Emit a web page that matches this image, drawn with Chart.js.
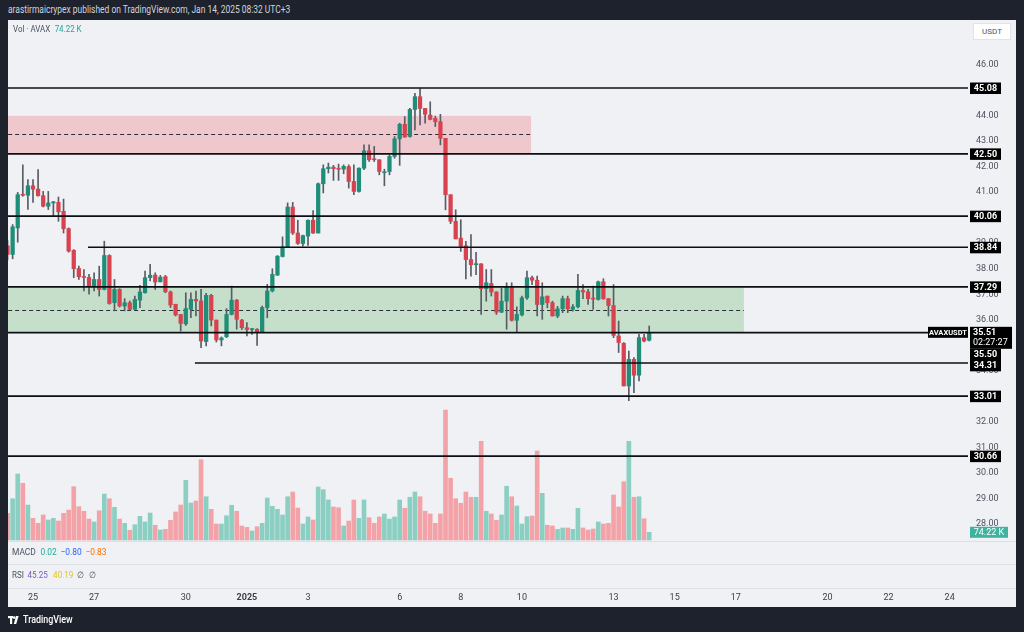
<!DOCTYPE html>
<html><head><meta charset="utf-8">
<script src="https://cdn.jsdelivr.net/npm/chart.js@4.4.1/dist/chart.umd.min.js"></script>
<style>
html,body{margin:0;padding:0;}
body{width:1024px;height:632px;background:#1e222d;position:relative;overflow:hidden;font-family:Roboto,"Liberation Sans",sans-serif;}
.t{position:absolute;white-space:nowrap;transform-origin:0 50%;}
#panel{position:absolute;left:8px;top:20px;width:1008px;height:587px;background:#eff1f5;}
#wrap{position:absolute;left:8px;top:20px;width:1008px;height:587px;}
.sep{position:absolute;left:8px;width:1008px;height:1px;background:#dcdfe5;}
#usdt{position:absolute;left:973px;top:23px;width:38px;height:17px;background:#fff;border:1px solid #e0e3eb;box-sizing:border-box;font-size:8px;color:#4c525e;text-align:center;line-height:15px;}
</style></head><body>
<div id="panel"></div>
<div class="sep" style="top:541px"></div>
<div class="sep" style="top:564px"></div>
<div class="sep" style="top:588px"></div>
<div id="wrap"><canvas id="c"></canvas></div>
<div id="usdt">USDT</div>
<svg style="position:absolute;left:8px;top:614px" width="12" height="12" viewBox="0 0 12 12">
<rect x="0" y="2" width="5" height="2.2" fill="#fff"/><rect x="2" y="2" width="2.2" height="8" fill="#fff"/>
<circle cx="6.2" cy="3.6" r="1.3" fill="#fff"/><polygon points="8,2 10.6,2 8.2,10 5.8,10" fill="#fff"/>
</svg>
<script>
// ---- data (4h candles, AVAX/USDT, bar 0 = Dec 25 03:00 UTC+3) ----
const firstBar = -5;
const open  = [38.90,38.56,39.60,40.90,40.88,41.25,41.12,40.86,40.45,40.58,40.60,40.25,39.57,38.72,38.01,37.69,37.66,37.32,37.58,37.19,38.52,36.67,37.19,36.54,36.67,36.41,36.77,37.06,37.65,37.75,37.49,37.69,37.09,36.61,36.21,35.84,36.41,36.80,36.74,35.15,36.96,35.99,35.21,35.34,36.21,36.77,35.99,35.69,35.62,35.63,35.53,36.48,37.13,37.75,38.48,38.86,40.42,39.40,38.99,39.28,39.90,39.40,41.33,41.92,41.98,41.92,41.90,42.00,41.42,41.03,41.94,42.62,42.30,42.27,41.76,41.81,42.40,43.09,43.66,43.18,44.24,44.74,44.28,44.02,43.89,43.76,43.11,40.90,39.86,39.20,38.90,38.36,38.16,38.19,37.22,37.42,37.09,36.30,36.73,37.29,35.98,36.19,36.86,37.65,37.55,36.60,36.93,36.67,36.15,36.43,36.83,36.41,36.51,37.15,37.10,36.83,36.80,37.49,36.83,36.56,35.37,35.08,33.41,34.45,33.83,35.30,35.20];
const high  = [39.10,39.73,40.99,42.07,41.49,41.49,41.88,41.03,41.03,40.64,40.81,40.73,39.60,38.75,38.10,37.97,37.78,37.84,38.10,39.08,38.55,37.58,37.22,36.83,36.74,36.93,37.35,37.91,38.17,37.84,37.74,37.74,37.13,36.61,36.21,37.06,37.06,37.13,37.19,37.04,37.00,35.99,35.33,36.44,37.32,36.80,36.02,35.89,35.66,35.66,36.54,37.39,38.00,38.52,39.25,40.58,40.60,39.90,39.32,39.92,40.28,41.36,42.07,42.14,42.05,42.10,42.07,42.07,42.07,41.95,42.85,42.85,42.79,42.27,41.90,42.46,43.18,43.70,43.96,44.28,44.87,45.06,44.28,44.54,43.98,44.05,43.11,40.90,40.31,39.92,39.07,39.34,38.64,38.20,37.97,37.97,37.10,37.25,37.45,37.45,36.51,36.93,37.91,37.71,37.71,37.45,36.93,36.73,36.53,36.93,36.93,36.60,37.78,37.38,37.19,37.32,37.52,37.61,36.83,37.38,35.95,35.11,34.78,34.52,35.43,35.43,35.76];
const low   = [38.35,38.39,39.04,40.84,40.32,40.60,40.84,40.42,40.32,40.08,39.86,39.40,38.65,37.65,37.58,37.13,37.00,37.13,36.93,37.17,36.61,36.35,36.50,36.35,36.38,36.41,36.48,37.04,37.52,37.19,37.48,37.06,36.48,36.15,35.56,35.78,36.08,36.15,34.91,34.98,35.76,35.13,34.98,35.30,36.19,35.63,35.62,35.37,35.43,35.00,35.50,36.08,37.09,37.74,38.46,38.84,39.34,38.95,38.88,38.91,39.38,39.40,40.97,41.75,41.46,41.46,41.72,41.16,40.90,41.00,41.88,42.20,42.20,41.68,41.25,41.68,42.33,42.05,43.15,43.15,43.44,43.63,43.70,43.83,43.57,42.85,40.31,39.77,39.17,38.68,37.60,37.71,37.77,36.21,36.73,36.93,36.21,36.28,35.63,35.95,35.50,36.15,36.80,37.38,36.15,36.02,36.47,36.15,36.08,36.28,36.28,36.34,36.47,36.83,36.60,36.41,36.77,36.80,36.15,35.30,34.72,33.41,32.83,33.15,33.61,35.13,35.17];
const close = [38.56,39.64,40.90,40.88,41.25,41.12,40.86,40.45,40.58,40.60,40.23,39.57,38.69,38.00,37.69,37.66,37.32,37.58,37.19,38.52,36.64,37.19,36.54,36.67,36.41,36.80,37.09,37.65,37.75,37.48,37.67,37.10,36.58,36.19,35.86,36.44,36.80,36.74,35.17,36.96,35.99,35.21,35.29,36.21,36.77,36.02,35.69,35.62,35.63,35.53,36.48,37.13,37.78,38.49,38.86,40.42,39.40,38.99,39.30,39.90,39.40,41.33,41.92,41.98,41.92,41.90,42.01,41.42,41.03,41.94,42.62,42.27,42.27,41.81,41.80,42.40,43.09,43.66,43.16,44.24,44.74,44.28,44.05,43.85,43.76,43.11,40.90,39.86,39.17,38.88,38.36,38.16,38.19,37.22,37.45,37.09,36.30,36.73,37.29,35.98,36.21,36.86,37.65,37.55,36.60,36.90,36.67,36.15,36.43,36.83,36.43,36.51,37.15,37.09,36.83,36.81,37.49,36.83,36.56,35.39,35.11,33.41,34.45,33.83,35.30,35.17,35.51];
const volumeK = [257,398,636,547,337,209,161,241,193,209,183,257,289,514,321,277,202,174,282,443,398,315,202,161,94,147,228,174,260,142,96,103,190,270,337,575,357,376,774,417,296,154,154,234,335,277,135,122,87,128,161,405,325,296,241,417,463,308,154,222,193,511,485,386,318,311,135,183,386,209,386,215,161,222,251,202,222,386,306,412,463,417,277,251,161,251,1253,595,398,354,463,412,412,951,277,251,190,241,518,417,328,154,225,231,858,450,142,135,103,116,116,103,306,116,96,106,174,154,161,434,318,562,951,412,417,205,74.22];
const dayTickBars   = [0,12,30,42,54,72,84,96,114,126,138,156,168,180];
const dayTickLabels = ['25','27','30','2025','3','6','8','10','13','15','17','20','22','24'];
const priceTicks = [28,29,30,31,32,33,34,35,36,37,38,39,40,41,42,43,44,45,46];
const levels        = [45.08,42.50,40.06,38.84,37.29,35.50,34.31,33.01,30.66];
const levelStartBar = [-20,-20,-20,10.8,-20,-20,31.8,-20,-20];
const zoneLow      = [42.53,35.53];
const zoneHigh     = [43.99,37.27];
const zoneEndBar   = [97.8,139.6];
const lastPrice = 35.51;
const countdown = '02:27:27';
const lastVolLabel = '74.22 K';

// ---- text helpers ----
function place(parts, x, cy, w, size, weight){
  const d = document.createElement('div'); d.className='t';
  d.style.left = x+'px'; d.style.top = (cy - size/2)+'px';
  d.style.fontSize = size+'px'; d.style.lineHeight = size+'px';
  if (weight) d.style.fontWeight = weight;
  parts.forEach(([txt,col,gap])=>{ const s=document.createElement('span'); s.textContent=txt; s.style.color=col; if(gap) s.style.marginLeft=gap+'px'; d.appendChild(s); });
  document.body.appendChild(d);
  const r = d.scrollWidth; if (w && r) d.style.transform = 'scaleX('+(w/r)+')';
}
place([['arastirmaicrypex published on TradingView.com, Jan 14, 2025 08:32 UTC+3','#d1d4dc']], 8, 10, 282, 10);
place([['Vol · AVAX','#4c525e'],['74.22 K','#26a69a',5]], 13, 29, 69, 9);
place([['MACD','#4c525e'],['0.02','#22ab94',5],['−0.80','#2962ff',4],['−0.83','#ff6d00',4]], 12, 552, 95, 9);
place([['RSI','#4c525e'],['45.25','#7e57c2',4],['40.19','#e8c31a',6],['∅','#4c525e',4],['∅','#4c525e',6]], 12, 575, 85, 9);
place([['TradingView','#ffffff']], 23, 620, 50, 10, '500');

// ---- chart ----
const bars = open.map((_, k) => firstBar + k);
const up = bars.map((_, k) => close[k] >= open[k]);

const overlay = {
  id: 'overlay',
  beforeDatasetsDraw(chart){
    const {ctx, chartArea:a, scales:{x, y}} = chart;
    ctx.save(); ctx.beginPath(); ctx.rect(a.left, a.top, a.right-a.left, a.bottom-a.top); ctx.clip();
    const fills = ['rgba(242,54,69,0.22)','rgba(76,175,80,0.26)'];
    zoneLow.forEach((lo, k) => {
      const x0 = x.getPixelForValue(-20), x1 = x.getPixelForValue(zoneEndBar[k]);
      const y0 = y.getPixelForValue(zoneHigh[k]), y1 = y.getPixelForValue(lo);
      ctx.fillStyle = fills[k]; ctx.fillRect(x0, y0, x1-x0, y1-y0);
      const ym = Math.round(y.getPixelForValue((zoneHigh[k]+lo)/2)) + 0.5;
      ctx.setLineDash([4,3]); ctx.strokeStyle = '#2a2e39'; ctx.lineWidth = 1;
      ctx.beginPath(); ctx.moveTo(x0, ym); ctx.lineTo(x1, ym); ctx.stroke(); ctx.setLineDash([]);
    });
    ctx.restore();
  },
  afterDatasetsDraw(chart){
    const {ctx, chartArea:a, scales:{x, y}} = chart;
    ctx.save(); ctx.beginPath(); ctx.rect(a.left, a.top, a.right-a.left, a.bottom-a.top); ctx.clip();
    ctx.strokeStyle = '#0c0e14'; ctx.lineWidth = 1.6;
    levels.forEach((lv, k) => {
      const yy = y.getPixelForValue(lv);
      ctx.beginPath(); ctx.moveTo(x.getPixelForValue(levelStartBar[k]), yy); ctx.lineTo(a.right, yy); ctx.stroke();
    });
    ctx.restore();
  },
  afterDraw(chart){
    const {ctx, chartArea:a, scales:{y, yv}} = chart;
    ctx.save();
    ctx.textBaseline = 'middle'; ctx.textAlign = 'center';
    const bx = a.right + 2;
    // current price block + symbol tag
    const py = y.getPixelForValue(lastPrice);
    ctx.fillStyle = '#000'; ctx.fillRect(a.right-40, py-5.5, 40, 11);
    ctx.fillStyle = '#fff'; ctx.font = 'bold 8px Roboto';
    ctx.fillText('AVAXUSDT', a.right-20, py+0.5, 38);
    ctx.fillStyle = '#000'; ctx.fillRect(bx, py-5.5, 42, 22);
    ctx.fillStyle = '#fff'; ctx.font = 'bold 9px Roboto'; ctx.textAlign = 'left';
    ctx.fillText(lastPrice.toFixed(2), bx+3, py+0.5);
    ctx.font = '9px Roboto'; ctx.fillText(countdown, bx+3, py+10.5);
    // level badges with collision cascade
    const items = levels.map(lv => ({lv, yc: y.getPixelForValue(lv)})).sort((p,q)=>p.yc-q.yc);
    let prevBottom = -1e9; const blockTop = py-5.5, blockBottom = py+16.5;
    ctx.textAlign = 'center'; ctx.font = 'bold 9px Roboto';
    items.forEach(it => {
      let top = it.yc - 5.5;
      if (top < blockBottom && top + 11 > blockTop) top = blockBottom;
      if (top < prevBottom) top = prevBottom;
      ctx.fillStyle = '#000'; ctx.fillRect(bx, top, 31, 11.5);
      ctx.fillStyle = '#fff'; ctx.fillText(it.lv.toFixed(2), bx+15.5, top+6);
      prevBottom = top + 11;
    });
    // volume badge
    const vy = yv.getPixelForValue(volumeK[volumeK.length-1]);
    ctx.fillStyle = '#3fb39e'; ctx.fillRect(bx, vy-5.5, 38, 11);
    ctx.fillStyle = '#fff'; ctx.font = '9px Roboto'; ctx.fillText(lastVolLabel, bx+19, vy+0.5);
    ctx.restore();
  }
};

const zeroPad = s => { s.paddingTop = 0; s.paddingBottom = 0; s.paddingLeft = 0; s.paddingRight = 0; };

new Chart(document.getElementById('c'), {
  type: 'bar',
  data: {
    datasets: [
      { label:'Volume', yAxisID:'yv', data: bars.map((b,k)=>({x:b, y:[0, volumeK[k]]})),
        backgroundColor: up.map(u => u ? '#8bcfc3' : '#f3a2a7'), barThickness: 4, grouped:false, order:3, clip:0 },
      { label:'Wick', yAxisID:'y', data: bars.map((b,k)=>({x:b, y:[low[k], high[k]]})),
        backgroundColor: '#585c65', barThickness: 1, grouped:false, order:2, clip:0 },
      { label:'Body', yAxisID:'y', data: bars.map((b,k)=>({x:b, y:[open[k], close[k]]})),
        backgroundColor: up.map(u => u ? '#1f8d77' : '#d8424e'), barThickness: 3.6, minBarLength: 1, grouped:false, order:1, clip:0 }
    ]
  },
  options: {
    responsive: true, maintainAspectRatio: false, devicePixelRatio: 1, animation: false,
    layout: { padding: 0 },
    plugins: { legend: {display:false}, tooltip: {enabled:false} },
    scales: {
      x: { type:'linear', min:-4.91, max:183.6, offset:false,
        grid:{display:false, drawTicks:false}, border:{display:false},
        afterBuildTicks: s => { s.ticks = dayTickBars.map(v => ({value:v})); },
        afterFit: s => { s.height = 19; zeroPad(s); },
        ticks: { autoSkip:false, maxRotation:0, minRotation:0, padding:4, color:'#3b3f47',
          font: c => ({ size:9, family:'Roboto', weight: (c.tick && dayTickLabels[dayTickBars.indexOf(c.tick.value)] === '2025') ? 'bold' : 'normal' }),
          callback: v => { const k = dayTickBars.indexOf(v); return k >= 0 ? dayTickLabels[k] : ''; } } },
      y: { type:'linear', position:'right', min:25.495, max:47.744,
        grid:{display:false, drawTicks:false}, border:{display:false},
        afterBuildTicks: s => { s.ticks = priceTicks.map(v => ({value:v})); },
        afterFit: s => { s.width = 48; zeroPad(s); },
        ticks: { padding:8, color:'#4c525e', font:{size:9, family:'Roboto'}, callback: v => Number(v).toFixed(2) } },
      yv: { type:'linear', display:false, min:-462.7, max:5013 }
    }
  },
  plugins: [overlay]
});
</script>
</body></html>
